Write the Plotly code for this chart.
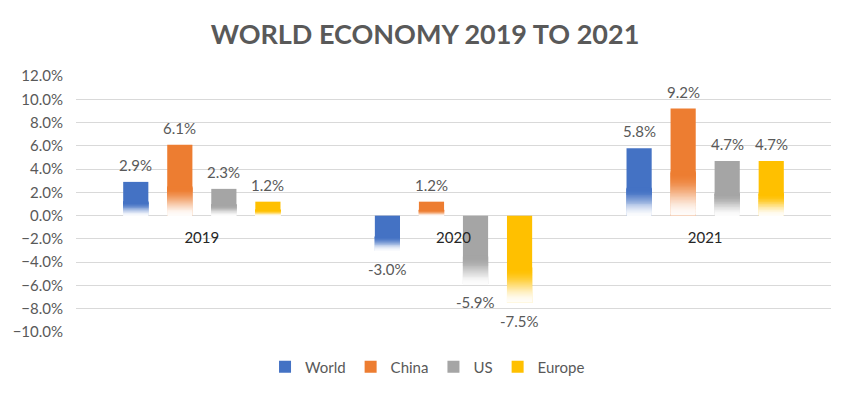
import plotly.graph_objects as go

years = ["2019", "2020", "2021"]
series_names = ["World", "China", "US", "Europe"]
world = [2.9, -3.0, 5.8]
china = [6.1, 1.2, 9.2]
us = [2.3, -5.9, 4.7]
europe = [1.2, -7.5, 4.7]
series_values = [world, china, us, europe]
colors = ["#4472C4", "#ED7D31", "#A5A5A5", "#FFC000"]
y_range = [-10, 12]

# the page body adds an 8px margin, so the figure is sized to fit the window
W, H = 842, 386
M = dict(l=68, r=19, t=68, b=62, autoexpand=False)
FONT = "Lato"
TXT = "#595959"

pitch = 0.175
bw = 0.1
fade_frac = 0.4
n_slices = 30


def hex_rgb(h):
    h = h.lstrip("#")
    return tuple(int(h[i:i + 2], 16) for i in (0, 2, 4))


def mix(c, t):
    r, g, b = hex_rgb(c)
    return "rgb(%d,%d,%d)" % (round(255 + (r - 255) * t), round(255 + (g - 255) * t), round(255 + (b - 255) * t))


fig = go.Figure()
annotations = []
for j, (name, vals, col) in enumerate(zip(series_names, series_values, colors)):
    center = (j - 1.5) * pitch
    # full solid bar (legend entry)
    fig.add_trace(go.Bar(
        x=years, y=vals, name=name, marker=dict(color=col, line=dict(width=0)),
        offset=center - bw / 2, width=bw, legendgroup=name, hoverinfo="x+y+name",
    ))
    # gradient fade on the lower part of each bar (slices overlap the next one)
    lo = [min(0, v) for v in vals]
    h = [abs(v) for v in vals]
    step = fade_frac / n_slices
    for k in range(n_slices):
        f0 = step * k
        s = k / (n_slices - 1)
        t = 0.03 + 0.97 * (3 * s * s - 2 * s * s * s)
        fig.add_trace(go.Bar(
            x=years, y=[2 * step * hh for hh in h],
            base=[l + f0 * hh for l, hh in zip(lo, h)],
            marker=dict(color=mix(col, t), line=dict(width=0)),
            offset=center - bw / 2, width=bw, showlegend=False,
            legendgroup=name, hoverinfo="skip",
        ))
    for i, v in enumerate(vals):
        annotations.append(dict(
            x=i + center, y=v, xref="x", yref="y", text="%.1f%%" % v,
            showarrow=False, font=dict(family=FONT, size=15, color=TXT),
            yanchor="bottom" if v >= 0 else "top", yshift=6 if v >= 0 else -7,
        ))

fig.update_layout(
    width=W, height=H, margin=M,
    paper_bgcolor="white", plot_bgcolor="white",
    barmode="overlay",
    title=dict(text="<b>WORLD ECONOMY 2019 TO 2021</b>", x=(425 - 8) / W, xanchor="center",
               xref="container", y=1 - 27 / H, yref="container", yanchor="middle",
               font=dict(family=FONT, size=27, color=TXT)),
    font=dict(family=FONT, size=15, color=TXT),
    showlegend=True,
    legend=dict(orientation="h", x=0.4656, xanchor="center", y=-0.137, yanchor="middle",
                font=dict(family=FONT, size=15, color=TXT), traceorder="normal",
                itemwidth=30, bgcolor="rgba(0,0,0,0)"),
    annotations=annotations,
)
fig.update_xaxes(type="category", range=[-0.5, 2.5], showgrid=False, showline=False,
                 zeroline=False, ticks="", anchor="free", automargin=False,
                 position=(0 - y_range[0]) / (y_range[1] - y_range[0]),
                 ticklabelstandoff=11,
                 tickfont=dict(family=FONT, size=15, color="#262626"))
fig.update_yaxes(range=y_range, dtick=2, tick0=0, tickformat=".1f", ticksuffix="%",
                 showgrid=True, gridcolor="#D9D9D9", gridwidth=1, automargin=False,
                 zeroline=True, zerolinecolor="#D9D9D9", zerolinewidth=1,
                 showline=False, ticks="", ticklabelstandoff=12,
                 tickfont=dict(family=FONT, size=15, color=TXT))

fig.write_html("out.html")
